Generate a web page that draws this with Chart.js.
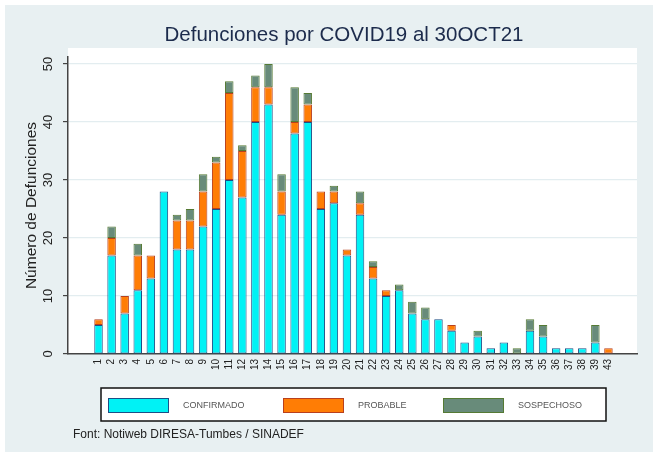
<!DOCTYPE html>
<html>
<head>
<meta charset="utf-8">
<script src="https://cdn.jsdelivr.net/npm/chart.js@4.4.0/dist/chart.umd.min.js"></script>
<style>
  html, body { margin: 0; padding: 0; background: #fff; }
  #wrap { width: 653px; height: 455px; }
</style>
</head>
<body>
<div id="wrap"><canvas id="chart" width="653" height="455"></canvas></div>
<script>
// semana epidemiologica (eje x)
var semanas = ['1','2','3','4','5','6','7','8','9','10','11','12','13','14','15','16','17','18','19','20',
	'21','22','23','24','25','26','27','28','29','30','31','32','33','34','35','36','37','38','39','43'];
var confirmado = [5,17,7,11,13,28,18,18,22,25,30,27,40,43,24,38,40,25,26,17,
	24,13,10,11,7,6,6,4,2,3,1,2,0,4,3,1,1,1,2,0];
var probable = [1,3,3,6,4,0,5,5,6,8,15,8,6,3,4,2,3,3,2,1,
	2,2,1,0,0,0,0,1,0,0,0,0,0,0,0,0,0,0,0,1];
var sospechoso = [0,2,0,2,0,0,1,2,3,1,2,1,2,4,3,6,2,0,1,0,
	2,1,0,1,2,2,0,0,0,1,0,0,1,2,2,0,0,0,3,0];
var yTicks = [0,10,20,30,40,50];

var titulo = 'Defunciones por COVID19 al 30OCT21';
var fuente = 'Font: Notiweb DIRESA-Tumbes / SINADEF';

function toPoints(arr) {
	return arr.map(function (v, i) { return { x: i, y: v === 0 ? null : v }; });
}

var series = [
	{ label: 'CONFIRMADO', data: confirmado, fill: '#00f2f5', line: '#1d4f86' },
	{ label: 'PROBABLE', data: probable, fill: '#ff7d05', line: '#b8401e' },
	{ label: 'SOSPECHOSO', data: sospechoso, fill: '#688b7a', line: '#557a34' }
];

var frame = {
	id: 'frame',
	beforeDraw: function (chart) {
		var c = chart.ctx, a = chart.chartArea;
		c.save();
		c.fillStyle = '#ffffff';
		c.fillRect(0, 0, chart.width, chart.height);
		c.fillStyle = '#e8f0f2';
		c.fillRect(5, 5, chart.width - 5, chart.height - 8);
		c.fillStyle = '#ffffff';
		c.fillRect(a.left, a.top - 9, a.right - a.left, a.bottom - a.top + 9);
		c.restore();
	},
	afterDraw: function (chart) {
		var c = chart.ctx;
		c.save();
		// titulo
		c.fillStyle = '#1c2b4c';
		c.font = '20.5px "Liberation Sans", Arial, sans-serif';
		c.textAlign = 'center';
		c.textBaseline = 'alphabetic';
		c.fillText(titulo, 344, 41);

		// leyenda
		c.fillStyle = '#ffffff';
		c.fillRect(101, 388, 505, 33);
		c.strokeStyle = '#111';
		c.lineWidth = 1.5;
		c.strokeRect(101, 388, 505, 33);
		var xs = [108, 283, 443];
		series.forEach(function (s, i) {
			c.fillStyle = s.fill;
			c.fillRect(xs[i], 398, 61, 15);
			c.strokeStyle = s.line;
			c.lineWidth = 1;
			c.strokeRect(xs[i] + 0.5, 398.5, 60, 14);
			c.fillStyle = '#555';
			c.font = '9px "Liberation Sans", Arial, sans-serif';
			c.textAlign = 'left';
			c.textBaseline = 'middle';
			c.fillText(s.label, xs[i] + 75, 405.5);
		});

		// fuente
		c.fillStyle = '#222';
		c.font = '12px "Liberation Sans", Arial, sans-serif';
		c.textAlign = 'left';
		c.textBaseline = 'middle';
		c.fillText(fuente, 73, 435);
		c.restore();
	}
};

var ctx = document.getElementById('chart').getContext('2d');
var chart = new Chart(ctx, {
	type: 'bar',
	data: {
		datasets: series.map(function (s) {
			return {
				label: s.label,
				data: toPoints(s.data),
				backgroundColor: s.fill,
				borderColor: s.line,
				borderWidth: 1,
				borderSkipped: false,
				barPercentage: 0.65,
				categoryPercentage: 1
			};
		})
	},
	options: {
		responsive: false,
		animation: false,
		layout: { padding: { top: 57, right: 16, bottom: 0, left: 0 } },
		plugins: {
			legend: { display: false },
			title: { display: false },
			tooltip: { enabled: false }
		},
		scales: {
			x: {
				type: 'linear',
				stacked: true,
				min: -1.79,
				max: 40.64,
				afterFit: function (s) { s.height = 101; },
				afterBuildTicks: function (s) {
					s.ticks = semanas.map(function (l, i) { return { value: i }; });
				},
				grid: { display: true, drawOnChartArea: false, drawTicks: false },
				border: { display: true, color: '#444', width: 1.5 },
				ticks: {
					autoSkip: false,
					minRotation: 90,
					maxRotation: 90,
					padding: 5,
					color: '#222',
					font: { family: '"Liberation Sans", Arial, sans-serif', size: 10 },
					callback: function (v) { return semanas[v]; }
				}
			},
			y: {
				stacked: true,
				min: 0,
				max: 51.2,
				afterFit: function (s) { s.width = 68; },
				afterBuildTicks: function (s) {
					s.ticks = yTicks.map(function (v) { return { value: v }; });
				},
				grid: {
					color: function (c) { return c.tick && c.tick.value === 0 ? 'rgba(0,0,0,0)' : '#e3edf0'; },
					tickColor: '#444',
					tickLength: 5,
					lineWidth: 1.2
				},
				border: { display: true, color: '#444', width: 1.5 },
				ticks: {
					minRotation: 90,
					maxRotation: 90,
					crossAlign: 'center',
					padding: 7,
					color: '#222',
					font: { family: '"Liberation Sans", Arial, sans-serif', size: 13 }
				},
				title: {
					display: true,
					text: 'Número de Defunciones',
					color: '#222',
					padding: { top: 22, bottom: 0 },
					font: { family: '"Liberation Sans", Arial, sans-serif', size: 15.5 }
				}
			}
		}
	},
	plugins: [frame]
});
</script>
</body>
</html>
